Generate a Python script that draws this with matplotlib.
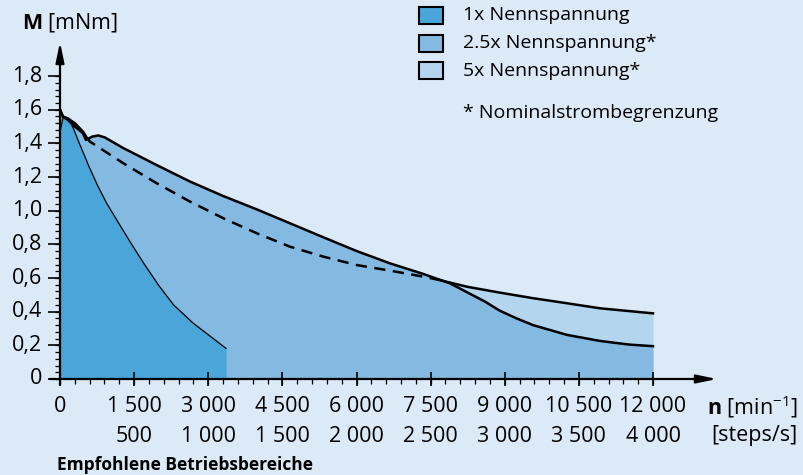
import matplotlib
matplotlib.use("Agg")
import matplotlib.pyplot as plt
import numpy as np
from matplotlib.patches import Rectangle

plt.rcParams['font.family'] = ['Open Sans', 'DejaVu Sans']
plt.rcParams['mathtext.fontset'] = 'custom'
plt.rcParams['mathtext.rm'] = 'Open Sans'
plt.rcParams['mathtext.bf'] = 'Open Sans:bold'

# Drehmomentkennlinien, n in min^-1, M in mNm
one_n = [0, 67, 170, 270, 405, 590, 760, 945, 1200, 1450, 1700, 2000, 2300, 2698, 3036, 3360]
one_m = [1.47, 1.56, 1.55, 1.49, 1.39, 1.26, 1.15, 1.044, 0.92, 0.80, 0.685, 0.555, 0.44, 0.331, 0.255, 0.182]

two_n = [0, 60, 160, 300, 465, 525, 650, 775, 910, 1281, 1957, 2631, 3305, 3981, 4655,
         5329, 6005, 6679, 7353, 7894, 8240, 8600, 8905, 9240, 9575, 10260, 10930, 11500, 12000]
two_m = [1.60, 1.557, 1.54, 1.50, 1.46, 1.42, 1.44, 1.447, 1.435, 1.372, 1.271, 1.173, 1.087, 1.008, 0.925,
         0.842, 0.760, 0.687, 0.624, 0.568, 0.515, 0.46, 0.405, 0.36, 0.32, 0.262, 0.226, 0.205, 0.195]

five_n = [0, 60, 160, 300, 465, 540, 607, 1281, 1957, 2631, 3305, 3981, 4655, 5329, 6005,
          6679, 7353, 7650, 8240, 8905, 9575, 10260, 10930, 12000]
five_m = [1.60, 1.56, 1.548, 1.52, 1.47, 1.435, 1.41, 1.282, 1.163, 1.054, 0.955, 0.866, 0.786, 0.727, 0.677,
          0.644, 0.608, 0.59, 0.548, 0.513, 0.48, 0.45, 0.42, 0.39]
dash_from, dash_to = 5, 17   # verdeckter Teil der 5x Kurve

x_ticks = [0, 1500, 3000, 4500, 6000, 7500, 9000, 10500, 12000]
x_labels = ['0', '1 500', '3 000', '4 500', '6 000', '7 500', '9 000', '10 500', '12 000']
step_labels = ['', '500', '1 000', '1 500', '2 000', '2 500', '3 000', '3 500', '4 000']
y_ticks = [0, 0.2, 0.4, 0.6, 0.8, 1.0, 1.2, 1.4, 1.6, 1.8]
y_labels = ['0', '0,2', '0,4', '0,6', '0,8', '1,0', '1,2', '1,4', '1,6', '1,8']

legend_labels = ['1x Nennspannung', '2.5x Nennspannung*', '5x Nennspannung*']
c_bg = '#dce9f6'
c_one = '#4aa5d8'
c_two = '#84b9e1'
c_five = '#b4d5ee'
legend_colors = [c_one, c_two, c_five]

# pixel -> daten
PX_N = 12000 / 593.0
PX_M = 1 / 168.3
def dn(px):
    return (px - 60) * PX_N
def dm(py):
    return (379 - py) * PX_M

fig = plt.figure(figsize=(8.04, 4.75), dpi=100, facecolor=c_bg)
ax = fig.add_axes([0, 0, 1, 1])
ax.set_facecolor(c_bg)
ax.set_xlim(dn(0), dn(804))
ax.set_ylim(dm(475), dm(0))
ax.axis('off')

# flaechen
ax.fill_between(five_n, five_m, 0, color=c_five, lw=0, zorder=1)
ax.fill_between(two_n, two_m, 0, color=c_two, lw=0, zorder=2)
ax.fill_between(one_n, one_m, 0, color=c_one, lw=0, zorder=3)

# kurven
ax.plot(one_n, one_m, color='black', lw=0.9, zorder=4)
ax.plot(two_n, two_m, color='black', lw=1.8, zorder=5, solid_joinstyle='round')
ax.plot(five_n[:dash_from + 1], five_m[:dash_from + 1], color='black', lw=1.8, zorder=5)
ax.plot(five_n[dash_from:dash_to + 1], five_m[dash_from:dash_to + 1], color='black', lw=1.8,
        dashes=(4.5, 3), zorder=5)
ax.plot(five_n[dash_to:], five_m[dash_to:], color='black', lw=1.8, zorder=5)

# achsen mit pfeilen
ax.annotate('', xy=(dn(717), 0), xytext=(dn(50), 0),
            arrowprops=dict(arrowstyle='-|>,head_length=1.2,head_width=0.25', lw=1.6, color='black',
                            shrinkA=0, shrinkB=0), zorder=6)
ax.annotate('', xy=(0, dm(42)), xytext=(0, dm(385)),
            arrowprops=dict(arrowstyle='-|>,head_length=1.2,head_width=0.25', lw=1.6, color='black',
                            shrinkA=0, shrinkB=0), zorder=6)

# ticks
x_minor = np.arange(0, 12001, 300)
ax.vlines(x_minor, dm(379), dm(384), color='black', lw=0.9, zorder=6)
ax.vlines(x_ticks[1:], dm(372), dm(386), color='black', lw=1.2, zorder=6)
y_minor = np.arange(0, 1.8001, 0.04)
ax.hlines(y_minor, dn(55), 0, color='black', lw=0.9, zorder=6)
ax.hlines(y_ticks, dn(48), 0, color='black', lw=1.2, zorder=6)

fs = 15.5
for v, lab in zip(y_ticks, y_labels):
    ax.text(dn(42), v, lab, ha='right', va='center', fontsize=fs)
for v, lab, lab2 in zip(x_ticks, x_labels, step_labels):
    ax.text(v, dm(407), lab, ha='center', va='center', fontsize=fs)
    ax.text(v, dm(436), lab2, ha='center', va='center', fontsize=fs)

ax.text(dn(798), dm(407), r'$\mathbf{n}$ [min$^{-1}$]', ha='right', va='center', fontsize=fs)
ax.text(dn(798), dm(436), '[steps/s]', ha='right', va='center', fontsize=fs)
ax.text(dn(22), dm(23), r'$\mathbf{M}$ [mNm]', ha='left', va='center', fontsize=fs)
ax.text(dn(57), dm(465), 'Empfohlene Betriebsbereiche', ha='left', va='center',
        fontsize=12.5, fontweight='bold')

# legende
for i, (lab, col) in enumerate(zip(legend_labels, legend_colors)):
    yc = 15.5 + i * 27.7
    ax.add_patch(Rectangle((dn(419), dm(yc + 8.5)), 23.5 * PX_N, 17 * PX_M, facecolor=col,
                           edgecolor='black', lw=1.5, zorder=7))
    ax.text(dn(463), dm(yc), lab, ha='left', va='center', fontsize=14)
ax.text(dn(463), dm(113), '* Nominalstrombegrenzung', ha='left', va='center', fontsize=14)

fig.savefig('out.png', dpi=100, facecolor=c_bg)
